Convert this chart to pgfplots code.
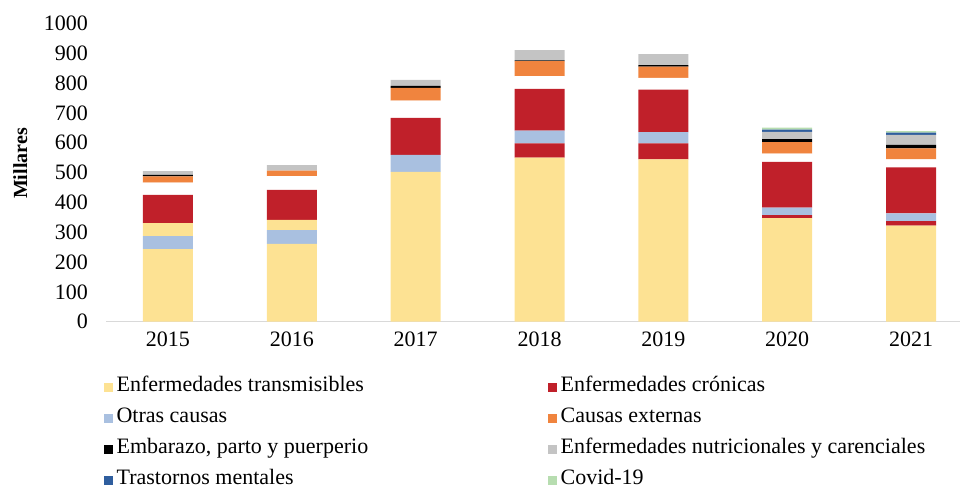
\documentclass[border=0pt]{standalone}
\usepackage{fontspec}
\setmainfont{Liberation Serif}
\usepackage{pgfplots}
\pgfplotsset{compat=1.18}
\definecolor{cYel}{HTML}{FDE293}
\definecolor{cRed}{HTML}{C0202A}
\definecolor{cBlu}{HTML}{A9C0E0}
\definecolor{cOra}{HTML}{F0843E}
\definecolor{cGry}{HTML}{C4C4C4}
\definecolor{cDbl}{HTML}{2F5E9E}
\definecolor{cGrn}{HTML}{B7DDB0}
\definecolor{cAx}{HTML}{D9D9D9}
\begin{document}
\begin{tikzpicture}
\path[use as bounding box] (0,0) rectangle (960pt,488pt);
\begin{axis}[
  at={(106pt,166.3pt)}, anchor=south west,
  scale only axis, width=867pt, height=298.4pt,
  ybar stacked, bar width=50pt,
  xmin=-0.5, xmax=6.5, ymin=0, ymax=1000,
  xtick={0,1,2,3,4,5,6},
  xticklabels={2015,2016,2017,2018,2019,2020,2021},
  ytick={0,100,200,300,400,500,600,700,800,900,1000},
  separate axis lines,
  axis x line*=bottom, axis y line*=left,
  x axis line style={draw=cAx, line width=1.5pt, -},
  y axis line style={draw=none},
  major tick length=0pt, tick style={draw=none},
  /pgf/number format/assume math mode=true,
  /pgf/number format/1000 sep={},
  ticklabel style={font=\fontsize{22}{26}\selectfont},
  yticklabel style={anchor=east, inner sep=0pt, xshift=-18pt},
  xticklabel style={anchor=north, inner sep=0pt, yshift=-10pt},
  ylabel={Millares},
  ylabel style={at={(axis description cs:-0.099,0.53)}, anchor=center, font=\bfseries\fontsize{20}{24}\selectfont},
  legend columns=2, legend cell align=left,
  legend image code/.code={\fill[#1] (0pt,-6.5pt) rectangle (9pt,2.5pt);},
  legend style={at={(axis description cs:-0.003,-0.182)}, anchor=north west,
    draw=none, fill=none, inner sep=0pt, column sep=4pt, row sep=13pt,
    nodes={inner sep=0pt, text height=15pt, text depth=3pt, font=\fontsize{22}{26}\selectfont}},
]
\addplot[fill=cYel, draw=none] coordinates {(0,243)(1,261)(2,502)(3,550)(4,544)(5,347)(6,322)};
\addlegendentry{\makebox[427pt][l]{Enfermedades transmisibles}}
\addplot[fill=cRed, draw=none] coordinates {(0,0)(1,0)(2,0)(3,48)(4,54)(5,10)(6,15)};
\addlegendentry{Enfermedades crónicas}
\addplot[fill=cBlu, draw=none] coordinates {(0,44)(1,46)(2,57)(3,42)(4,37)(5,25)(6,26)};
\addlegendentry{\makebox[427pt][l]{Otras causas}}
\addplot[fill=cYel, draw=none, forget plot] coordinates {(0,43)(1,34)(2,0)(3,0)(4,0)(5,0)(6,0)};
\addplot[fill=cRed, draw=none, forget plot] coordinates {(0,95)(1,101)(2,124)(3,140)(4,143)(5,154)(6,154)};
\addplot[fill=white, draw=none, forget plot] coordinates {(0,41)(1,46)(2,58)(3,43)(4,39)(5,27)(6,27)};
\addplot[fill=cOra, draw=none] coordinates {(0,21)(1,18)(2,43)(3,50)(4,38)(5,39)(6,37)};
\addlegendentry{Causas externas}
\addplot[fill=black, draw=none] coordinates {(0,5)(1,0)(2,6)(3,3)(4,5)(5,10)(6,12)};
\addlegendentry{\makebox[427pt][l]{Embarazo, parto y puerperio}}
\addplot[fill=cGry, draw=none] coordinates {(0,13)(1,19)(2,20)(3,34)(4,37)(5,24)(6,33)};
\addlegendentry{Enfermedades nutricionales y carenciales}
\addplot[fill=cDbl, draw=none] coordinates {(0,0)(1,0)(2,0)(3,0)(4,0)(5,8)(6,8)};
\addlegendentry{\makebox[427pt][l]{Trastornos mentales}}
\addplot[fill=cGrn, draw=none] coordinates {(0,0)(1,0)(2,0)(3,0)(4,0)(5,6)(6,5)};
\addlegendentry{Covid-19}
\end{axis}
\end{tikzpicture}
\end{document}
